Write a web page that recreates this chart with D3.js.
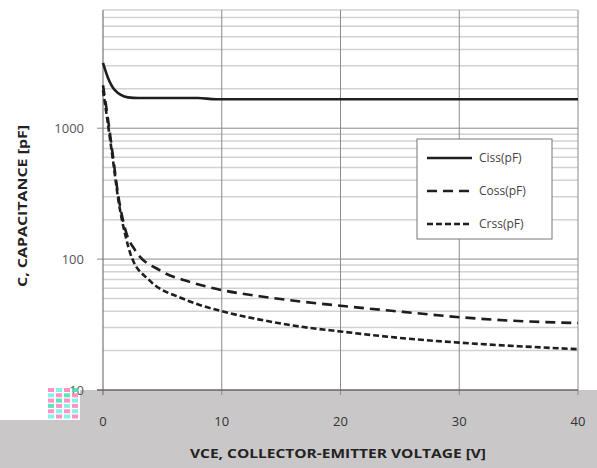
<!DOCTYPE html>
<html>
<head>
<meta charset="utf-8">
<script src="https://cdn.jsdelivr.net/npm/d3@7"></script>
<style>
  body { margin: 0; background: #fff; }
  svg { display: block; }
</style>
</head>
<body>
<div id="chart"></div>
<script>
// series values (VCE in V, capacitance in pF)
var vCiss = [0, 0.4, 1.0, 2.1, 3, 8, 9.5, 40];
var ciss = [3150, 2450, 1950, 1720, 1700, 1700, 1665, 1665];

var vCoss = [0, 0.4, 0.85, 1.3, 1.9, 2.7, 4.8, 7.3, 10, 13.2, 16.6, 20, 25.3, 30, 35.4, 40];
var coss = [2130, 1210, 600, 300, 166, 117, 82, 67, 58, 52, 47.5, 44, 39.5, 36, 33.5, 32.5];

var vCrss = [0, 0.4, 0.85, 1.3, 1.9, 2.4, 3.9, 6.7, 10, 13.2, 16.6, 20, 25, 30, 35, 40];
var crss = [1950, 1100, 560, 280, 150, 104, 69, 50, 40, 34.5, 30.5, 28, 25, 23, 21.6, 20.5];

var xTicks = [0, 10, 20, 30, 40];
var yTicks = [10, 100, 1000];
var seriesNames = ["Ciss(pF)", "Coss(pF)", "Crss(pF)"];

var W = 597, H = 468;
var svg = d3.select("#chart").append("svg")
    .attr("width", W)
    .attr("height", H);

var x = d3.scaleLinear().domain([0, 40]).range([103, 578]);
var y = d3.scaleLog().domain([10, 8000]).range([390, 10]);

// grey band at the bottom
svg.append("rect").attr("x", 80).attr("y", 390).attr("width", W - 80).attr("height", H - 390).attr("fill", "#c9c7c7");
svg.append("rect").attr("x", 0).attr("y", 420).attr("width", 80).attr("height", H - 420).attr("fill", "#c9c7c7");

// minor horizontal grid lines
var minor = [];
[10, 100, 1000].forEach(function (d) {
    for (var k = 2; k <= 9; k++) { if (d * k <= 8000) minor.push(d * k); }
});
svg.append("g").selectAll("line")
    .data(minor)
    .enter().append("line")
    .attr("x1", x(0)).attr("x2", x(40))
    .attr("y1", function (d) { return y(d) }).attr("y2", function (d) { return y(d) })
    .attr("stroke", "#d2d2d2")
    .attr("stroke-width", 1.5);

// major horizontal grid lines (with small ticks to the left)
svg.append("g").selectAll("line")
    .data(yTicks.slice(1))
    .enter().append("line")
    .attr("x1", x(0) - 6).attr("x2", x(40))
    .attr("y1", function (d) { return y(d) }).attr("y2", function (d) { return y(d) })
    .attr("stroke", "#8c8c8c")
    .attr("stroke-width", 1);

// vertical grid lines
svg.append("g").selectAll("line")
    .data(xTicks.slice(1))
    .enter().append("line")
    .attr("x1", function (d) { return x(d) }).attr("x2", function (d) { return x(d) })
    .attr("y1", y(8000)).attr("y2", y(10) + 5)
    .attr("stroke", "#8c8c8c")
    .attr("stroke-width", 1);

// axes lines
svg.append("line")
    .attr("x1", x(0)).attr("x2", x(0))
    .attr("y1", y(8000)).attr("y2", y(10) + 5)
    .attr("stroke", "#777").attr("stroke-width", 1.2);
svg.append("line")
    .attr("x1", x(0) - 6).attr("x2", x(40))
    .attr("y1", y(10)).attr("y2", y(10))
    .attr("stroke", "#666").attr("stroke-width", 1.5);

// y tick labels
svg.append("g").selectAll("text")
    .data(yTicks)
    .enter().append("text")
    .attr("x", 84)
    .attr("y", function (d) { return y(d) + 5 })
    .attr("text-anchor", "end")
    .style("font-family", "'Open Sans', sans-serif")
    .style("font-size", "13px")
    .style("fill", "#555")
    .text(function (d) { return d });

// little pixel glitch over the "10" label
var glitch = ["#ff7fc0", "#6ff0e0", "#ff7fc0", "#40e0a8", "#ff7fc0", "#6ff0e0"];
for (var r = 0; r < 6; r++) {
    for (var c = 0; c < 4; c++) {
        svg.append("rect")
            .attr("x", 48 + c * 8).attr("y", 388 + r * 5.3)
            .attr("width", 6).attr("height", 4)
            .attr("fill", glitch[(r + c) % glitch.length])
            .attr("opacity", 0.85);
    }
}

// x tick labels
svg.append("g").selectAll("text")
    .data(xTicks)
    .enter().append("text")
    .attr("x", function (d) { return x(d) })
    .attr("y", 426)
    .attr("text-anchor", "middle")
    .style("font-family", "'Open Sans', sans-serif")
    .style("font-size", "13px")
    .style("fill", "#333")
    .text(function (d) { return d });

// axis titles
svg.append("text")
    .attr("x", 338)
    .attr("y", 458)
    .attr("text-anchor", "middle")
    .attr("textLength", 296)
    .attr("lengthAdjust", "spacingAndGlyphs")
    .style("font-family", "'Open Sans', sans-serif")
    .style("font-weight", "bold")
    .style("font-size", "13px")
    .style("fill", "#222")
    .text("VCE, COLLECTOR-EMITTER  VOLTAGE [V]");

svg.append("text")
    .attr("transform", "translate(27,206) rotate(-90)")
    .attr("text-anchor", "middle")
    .attr("textLength", 162)
    .attr("lengthAdjust", "spacingAndGlyphs")
    .style("font-family", "'Open Sans', sans-serif")
    .style("font-weight", "bold")
    .style("font-size", "13px")
    .style("fill", "#222")
    .text("C, CAPACITANCE [pF]");

// lines
var series = [
    { name: seriesNames[0], v: vCiss, c: ciss, dash: null },
    { name: seriesNames[1], v: vCoss, c: coss, dash: "10,6" },
    { name: seriesNames[2], v: vCrss, c: crss, dash: "6,3" }
];

var line = d3.line()
    .x(function (d) { return x(d[0]) })
    .y(function (d) { return y(d[1]) })
    .curve(d3.curveMonotoneX);

series.forEach(function (s) {
    var pts = s.v.map(function (v, i) { return [v, s.c[i]] });
    svg.append("path")
        .datum(pts)
        .attr("fill", "none")
        .attr("stroke", "#1e1e1e")
        .attr("stroke-width", 2.6)
        .attr("stroke-dasharray", s.dash)
        .attr("d", line);
});

// legend
svg.append("rect")
    .attr("x", 417).attr("y", 139)
    .attr("width", 135).attr("height", 100)
    .attr("fill", "#fff")
    .attr("stroke", "#777")
    .attr("stroke-width", 1);

series.forEach(function (s, i) {
    var ly = 158 + i * 33;
    svg.append("line")
        .attr("x1", 427).attr("x2", 472)
        .attr("y1", ly).attr("y2", ly)
        .attr("stroke", "#1e1e1e")
        .attr("stroke-width", 2.6)
        .attr("stroke-dasharray", s.dash);
    svg.append("text")
        .attr("x", 479).attr("y", ly + 4)
        .style("font-family", "'Open Sans', sans-serif")
        .style("font-size", "12px")
        .style("fill", "#444")
        .text(s.name);
});
</script>
</body>
</html>
